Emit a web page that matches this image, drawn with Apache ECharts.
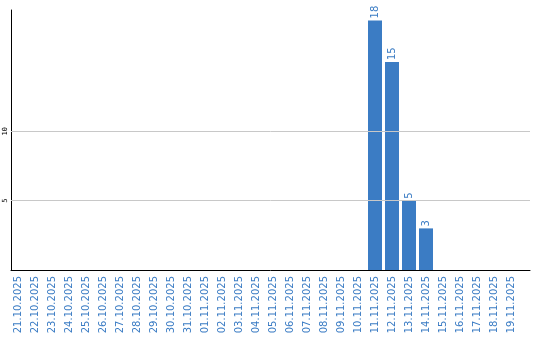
<!DOCTYPE html>
<html><head><meta charset="utf-8">
<script src="https://cdn.jsdelivr.net/npm/echarts@6/dist/echarts.min.js"></script>
<style>html,body{margin:0;padding:0;background:#fff}#c{width:540px;height:340px}</style>
</head><body><div id="c"></div>
<script>
const categories = ['21.10.2025','22.10.2025','23.10.2025','24.10.2025','25.10.2025','26.10.2025','27.10.2025','28.10.2025','29.10.2025','30.10.2025','31.10.2025','01.11.2025','02.11.2025','03.11.2025','04.11.2025','05.11.2025','06.11.2025','07.11.2025','08.11.2025','09.11.2025','10.11.2025','11.11.2025','12.11.2025','13.11.2025','14.11.2025','15.11.2025','16.11.2025','17.11.2025','18.11.2025','19.11.2025'];
const values = [null,null,null,null,null,null,null,null,null,null,null,null,null,null,null,null,null,null,null,null,null,18,15,5,3,null,null,null,null,null];
const yTickLabels = [5, 10];
const yMax = 18.75;
const blue = '#3b7cc4';

const chart = echarts.init(document.getElementById('c'), null, {renderer:'canvas'});
chart.setOption({
  animation: false,
  backgroundColor: '#fff',
  grid: [
    {left: 9.5, top: 10, width: 510, bottom: 70},
    {left: 11, top: 10, right: 10, bottom: 70}
  ],
  xAxis: [
    {type:'category', gridIndex:0, data: categories, boundaryGap: true,
     axisLine:{show:false}, axisTick:{show:false}, splitLine:{show:false},
     axisLabel:{interval:0, rotate:90, margin:6, color: blue, fontFamily:'DejaVu Sans', fontSize:10}},
    {type:'value', gridIndex:1, min:0, max:1, show:true,
     axisLine:{show:true, onZero:false, lineStyle:{color:'#000', width:1}},
     axisTick:{show:false}, axisLabel:{show:false}, splitLine:{show:false}}
  ],
  yAxis: [
    {type:'value', gridIndex:0, min:0, max:yMax, interval:5, show:false, splitLine:{show:false}},
    {type:'value', gridIndex:1, min:0, max:yMax, interval:5,
     axisLine:{show:true, lineStyle:{color:'#000', width:1}},
     axisTick:{show:false}, splitLine:{show:false},
     axisLabel:{show:true, rotate:90, margin:2, color:'#000', fontFamily:'DejaVu Sans Mono', fontSize:7,
       showMinLabel:false, showMaxLabel:false,
       formatter: v => yTickLabels.includes(v) ? String(v) : ''}}
  ],
  series: [
    {type:'bar', xAxisIndex:0, yAxisIndex:0, data: values, barWidth:14,
     itemStyle:{color: blue},
     label:{show:true, position:'top', rotate:90, align:'left', verticalAlign:'middle', distance:2,
       color: blue, fontFamily:'DejaVu Sans', fontSize:10}},
    {type:'line', xAxisIndex:1, yAxisIndex:1, data: [], silent:true,
     markLine:{silent:true, symbol:'none', label:{show:false},
       lineStyle:{color:'#c8c8c8', type:'solid', width:1},
       data: yTickLabels.map(v => ({yAxis: v}))}}
  ]
});
</script></body></html>
